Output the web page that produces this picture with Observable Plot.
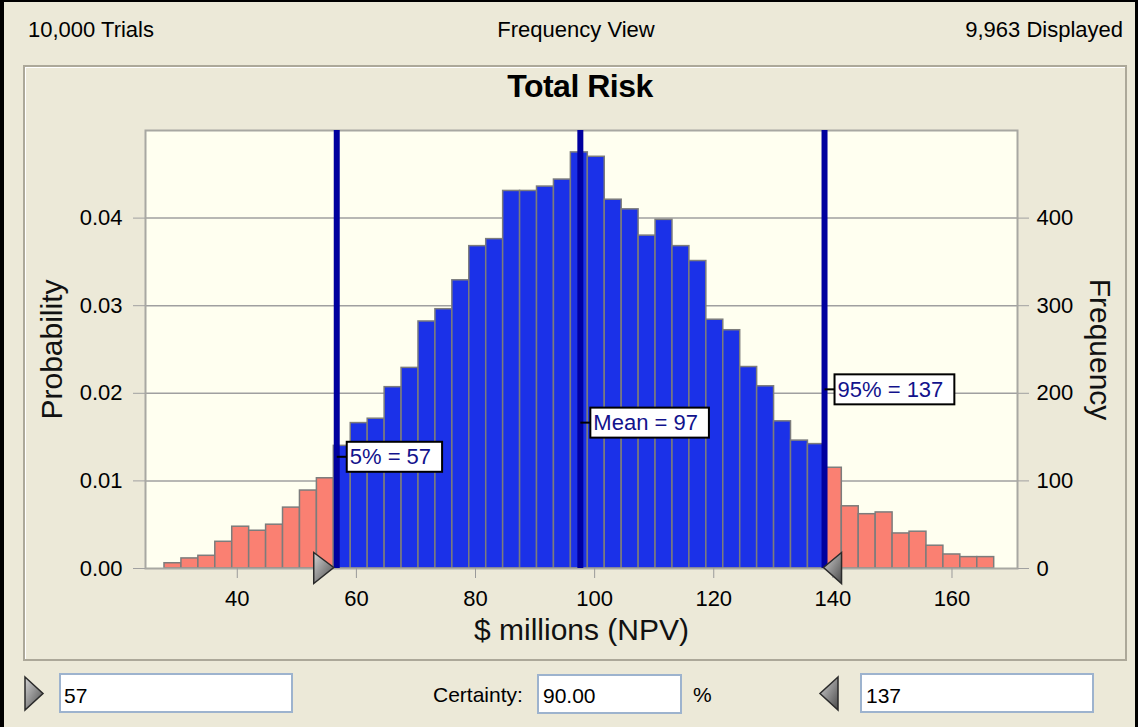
<!DOCTYPE html>
<html>
<head>
<meta charset="utf-8">
<script src="https://cdn.jsdelivr.net/npm/d3@7"></script>
<script src="https://cdn.jsdelivr.net/npm/@observablehq/plot@0.6"></script>
<style>
  html, body { margin: 0; padding: 0; background: #ECE9D8; }
  #wrap { position: relative; width: 1138px; height: 727px; overflow: hidden; background: #ECE9D8;
          font-family: "Liberation Sans", Arial, sans-serif; color: #000; }
  .abs { position: absolute; white-space: nowrap; line-height: 1; }
  .box { position: absolute; background: #fff; border: 2px solid #9DB3CE; box-sizing: border-box; }
  #chart { position: absolute; left: 0; top: 0; }
</style>
</head>
<body>
<div id="wrap">
  <svg width="0" height="0" style="position:absolute">
    <defs>
      <linearGradient id="grabGrad" x1="0" y1="0" x2="1" y2="1">
        <stop offset="0" stop-color="#d4d4d4"/>
        <stop offset="1" stop-color="#4a4a4a"/>
      </linearGradient>
    </defs>
  </svg>
  <!-- window borders -->
  <div class="abs" style="left:0;top:0;width:4px;height:727px;background:#000"></div>
  <div class="abs" style="left:0;top:0;width:1138px;height:2px;background:#000"></div>
  <div class="abs" style="left:1135px;top:0;width:3px;height:727px;background:#000"></div>
  <!-- header -->
  <div class="abs" id="hLeft" style="left:28px;top:19px;font-size:22px"></div>
  <div class="abs" id="hMid" style="left:576px;top:19px;font-size:22px;transform:translateX(-50%)"></div>
  <div class="abs" id="hRight" style="right:15px;top:19px;font-size:22px"></div>
  <!-- panel -->
  <div class="abs" style="left:23px;top:65px;width:1104px;height:596px;box-sizing:border-box;border:2px solid #ACA899;box-shadow:inset 1px 1px 0 #fff"></div>
  <div class="abs" id="title" style="left:580px;top:70px;font-size:32px;font-weight:bold;transform:translateX(-50%);letter-spacing:-0.5px"></div>
  <!-- bottom controls -->
  <svg class="abs" style="left:0;top:0" width="1138" height="727" pointer-events="none">
    <polygon points="25,677 43,693.5 25,710" fill="url(#grabGrad)" stroke="#2a2a2a" stroke-width="1.5"/>
    <polygon points="838,677 820,693.5 838,710" fill="url(#grabGrad)" stroke="#2a2a2a" stroke-width="1.5"/>
  </svg>
  <div class="box" style="left:59px;top:673px;width:234px;height:40px"></div>
  <div class="abs" id="lowVal" style="left:64px;top:685px;font-size:21px"></div>
  <div class="abs" id="certLabel" style="left:433px;top:684px;font-size:21px"></div>
  <div class="box" style="left:537px;top:674px;width:145px;height:40px"></div>
  <div class="abs" id="certVal" style="left:543px;top:685px;font-size:21px"></div>
  <div class="abs" id="pct" style="left:693px;top:684px;font-size:21px"></div>
  <div class="box" style="left:860px;top:673px;width:234px;height:40px"></div>
  <div class="abs" id="highVal" style="left:866px;top:685px;font-size:21px"></div>
  <div id="chart"></div>
</div>
<script>
// ---------------- data ----------------
const headerLeft = "10,000 Trials";
const headerMid = "Frequency View";
const headerRight = "9,963 Displayed";
const chartTitle = "Total Risk";
const xLabel = "$ millions (NPV)";
const yLabel = "Probability";
const y2Label = "Frequency";
const trials = 10000;

// histogram: 49 equal-width bins
const binStart = 27.78;
const binWidth = 2.843;
const binProbabilities = [
  0.0006, 0.00115, 0.00145, 0.00305, 0.00477, 0.00431, 0.0050, 0.00695, 0.0089, 0.0103,
  0.0140, 0.0166, 0.0171, 0.0207, 0.0229, 0.0282, 0.0296, 0.0329, 0.0368, 0.0376,
  0.0431, 0.0431, 0.0436, 0.0444, 0.0475, 0.0470, 0.0421, 0.0410, 0.0380, 0.0398,
  0.0368, 0.0351, 0.0284, 0.0272, 0.0230, 0.0208, 0.0168, 0.0146, 0.0142, 0.0115,
  0.0071, 0.0062, 0.0064, 0.0040, 0.0042, 0.0026, 0.0016, 0.0013, 0.0013
];

const xTicks = [40, 60, 80, 100, 120, 140, 160];
const probTicks = [0, 0.01, 0.02, 0.03, 0.04];
const freqTicks = [0, 100, 200, 300, 400];

const markerValues = [56.7, 97.6, 138.6];          // 5%, mean, 95% lines
const markerLabels = ["5% = 57", "Mean = 97", "95% = 137"];
const markerLabelY = [0.0127, 0.0166, 0.0204];
const lowerGrabber = 56.7;
const upperGrabber = 138.6;

const lowCertaintyText = "57";
const highCertaintyText = "137";
const certaintyLabel = "Certainty:";
const certaintyValue = "90.00";
const percentSign = "%";

// ---------------- styles ----------------
const blue = "#1B31E8";
const salmon = "#FA8072";
const lineColor = "#00009E";
const labelColor = "#12128C";

// ---------------- chrome texts ----------------
document.getElementById("hLeft").textContent = headerLeft;
document.getElementById("hMid").textContent = headerMid;
document.getElementById("hRight").textContent = headerRight;
document.getElementById("title").textContent = chartTitle;
document.getElementById("lowVal").textContent = lowCertaintyText;
document.getElementById("highVal").textContent = highCertaintyText;
document.getElementById("certLabel").textContent = certaintyLabel;
document.getElementById("certVal").textContent = certaintyValue;
document.getElementById("pct").textContent = percentSign;

// ---------------- build table ----------------
const bins = binProbabilities.map((p, i) => {
  const x1 = binStart + i * binWidth;
  const x2 = x1 + binWidth;
  const c = (x1 + x2) / 2;
  return {x1, x2, p, inside: c > markerValues[0] && c < markerValues[2]};
});
const labels = markerValues.map((x, i) => ({x, y: markerLabelY[i], text: markerLabels[i]}));

const rightTri = {draw(ctx) { ctx.moveTo(-23, -16); ctx.lineTo(-3, -1); ctx.lineTo(-23, 15); ctx.closePath(); }};
const leftTri  = {draw(ctx) { ctx.moveTo(17, -16); ctx.lineTo(-1, -1); ctx.lineTo(17, 15); ctx.closePath(); }};

const plot = Plot.plot({
  width: 1138,
  height: 727,
  marginLeft: 145,
  marginRight: 121,
  marginTop: 130,
  marginBottom: 159,
  x: {domain: [24.59, 171.0]},
  y: {domain: [0, 0.05]},
  style: {background: "transparent", fontFamily: "'Liberation Sans', Arial, sans-serif", fontSize: "22px", color: "black", overflow: "visible"},
  marks: [
    Plot.frame({fill: "#FFFFF0", stroke: null}),
    Plot.gridY(probTicks.slice(1), {stroke: "#A0A0A0", strokeOpacity: 1, strokeWidth: 1.5}),
    Plot.rectY(bins, {x1: "x1", x2: "x2", y: "p", fill: d => d.inside ? blue : salmon, stroke: "#7C7C7C", strokeWidth: 1.5}),
    Plot.frame({stroke: "#A8A8A2", strokeWidth: 2}),
    Plot.axisX({ticks: xTicks, tickSize: 10, tickPadding: 12, stroke: "#9A9A9A", fill: "black", label: null}),
    Plot.axisY({anchor: "left", ticks: probTicks, tickFormat: d3.format(".2f"), tickSize: 12, tickPadding: 11,
                stroke: "#A0A0A0", fill: "black", label: null}),
    Plot.axisY({anchor: "right", ticks: freqTicks.map(f => f / trials), tickFormat: d => String(Math.round(d * trials)),
                tickSize: 11, tickPadding: 8, stroke: "#A0A0A0", fill: "black", label: null}),
    Plot.ruleX(markerValues, {stroke: lineColor, strokeWidth: 6}),
    Plot.dot([lowerGrabber], {x: d => d, y: () => 0, symbol: rightTri, fill: "url(#grabGrad)", stroke: "#2a2a2a", strokeWidth: 1.5}),
    Plot.dot([upperGrabber], {x: d => d, y: () => 0, symbol: leftTri, fill: "url(#grabGrad)", stroke: "#2a2a2a", strokeWidth: 1.5}),
    Plot.text(labels, {x: "x", y: "y", text: "text", textAnchor: "start", dx: 13, fill: labelColor, fontSize: 22, className: "mlabel"}),
    Plot.text([yLabel], {text: d => d, frameAnchor: "left", textAnchor: "middle", rotate: -90, dx: -93, fontSize: 30, fill: "#111"}),
    Plot.text([y2Label], {text: d => d, frameAnchor: "right", textAnchor: "middle", rotate: 90, dx: 82, fontSize: 30, fill: "#111"}),
    Plot.text([xLabel], {text: d => d, frameAnchor: "bottom", lineAnchor: "top", dy: 50, fontSize: 30, fill: "#111"})
  ]
});
document.getElementById("chart").appendChild(plot);

// white boxes with black border behind the marker labels, plus short connector
const ns = "http://www.w3.org/2000/svg";
plot.querySelectorAll("g.mlabel text").forEach(t => {
  const b = t.getBBox();
  const tr = t.getAttribute("transform") || "";
  const tx = +(t.getAttribute("x") || 0), ty = +(t.getAttribute("y") || 0);
  const cy = b.y + b.height / 2;
  const rect = document.createElementNS(ns, "rect");
  rect.setAttribute("x", b.x - 3);
  rect.setAttribute("y", cy - 15);
  rect.setAttribute("width", b.width + 14);
  rect.setAttribute("height", 30);
  rect.setAttribute("fill", "white");
  rect.setAttribute("stroke", "black");
  rect.setAttribute("stroke-width", 2);
  if (tr) rect.setAttribute("transform", tr);
  t.parentNode.insertBefore(rect, t);
  const ln = document.createElementNS(ns, "line");
  ln.setAttribute("x1", b.x - 13);
  ln.setAttribute("x2", b.x - 3);
  ln.setAttribute("y1", cy);
  ln.setAttribute("y2", cy);
  ln.setAttribute("stroke", "black");
  ln.setAttribute("stroke-width", 2);
  if (tr) ln.setAttribute("transform", tr);
  t.parentNode.insertBefore(ln, t);
});
</script>
</body>
</html>
